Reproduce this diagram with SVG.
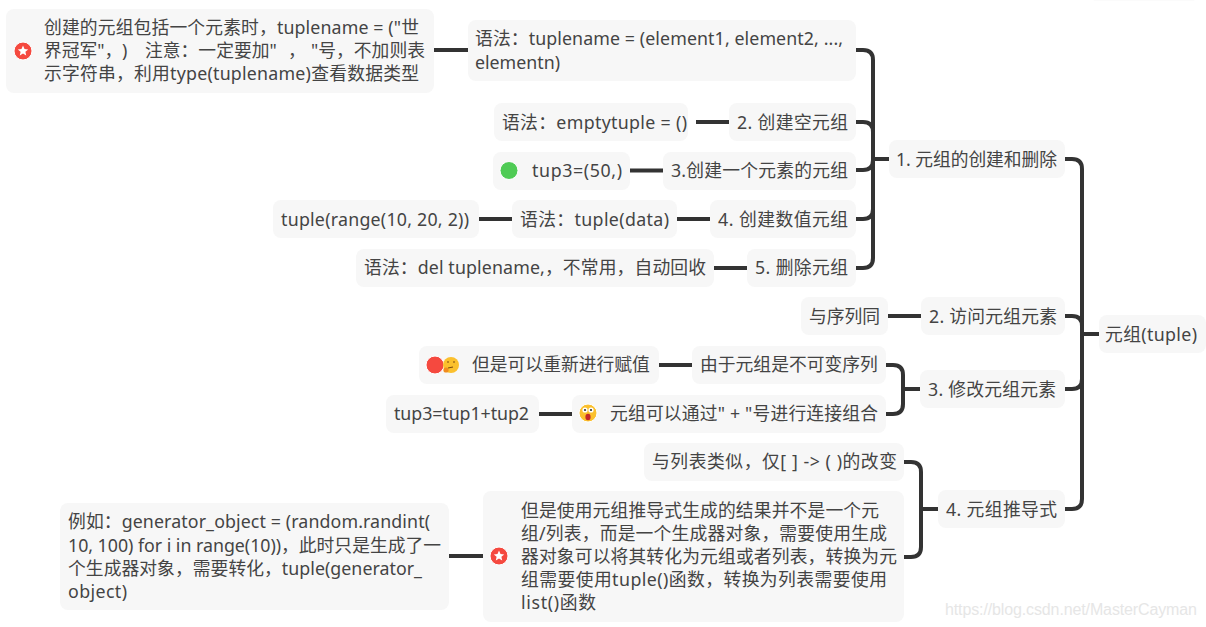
<svg xmlns="http://www.w3.org/2000/svg" width="1206" height="627" viewBox="0 0 1206 627">
<style>
text{font-family:"Noto Sans","Noto Sans CJK SC",sans-serif;font-size:17.8px;fill:#444}
.b{fill:#f7f7f7}
.c{fill:none;stroke:#333;stroke-width:4;stroke-linecap:butt}
.e{stroke:#fff;stroke-width:1}
</style>
<defs>
<g id="star"><circle r="9" fill="#f5493f" class="e"/><polygon fill="#fff" points="0,-5.4 1.5,-1.9 5.2,-1.6 2.4,0.8 3.2,4.4 0,2.5 -3.2,4.4 -2.4,0.8 -5.2,-1.6 -1.5,-1.9"/></g>
</defs>
<rect class="b" x="1088" y="-30" width="112" height="30.5" rx="8"/>
<g id="connectors">
<path class="c" d="M1065 159H1072Q1082 159 1082 169V499Q1082 509 1072 509H1065"/>
<path class="c" d="M1065 316H1072Q1082 316 1082 326M1065 389H1072Q1082 389 1082 379M1082 334H1099"/>
<path class="c" d="M856 50H863Q873 50 873 60V258Q873 268 863 268H856"/>
<path class="c" d="M856 122H863Q873 122 873 132M856 170H863Q873 170 873 160M856 219H863Q873 219 873 209M873 159H889"/>
<path class="c" d="M434 50H468M696 122H729M630 170.500H663M479 219H512M677 219H710M714 268H747M888 316H921"/>
<path class="c" d="M886 365H893Q903 365 903 375V404Q903 414 893 414H886M903 389H920M659 365H692M539 414H572"/>
<path class="c" d="M904 462H911Q921 462 921 472V547Q921 557 911 557H904M921 509H938M449 556H483"/>
</g>
<g id="n0"><rect class="b" x="1099" y="315" width="107" height="38" rx="8"/><text x="1105" y="341" textLength="92">元组(tuple)</text></g>
<g id="n1"><rect class="b" x="889" y="140" width="176" height="38" rx="8"/><text x="896" y="166" textLength="161">1. 元组的创建和删除</text></g>
<g id="n2"><rect class="b" x="921" y="297" width="144" height="38" rx="8"/><text x="929" y="323" textLength="128">2. 访问元组元素</text></g>
<g id="n3"><rect class="b" x="920" y="370" width="145" height="38" rx="8"/><text x="928" y="396" textLength="128">3. 修改元组元素</text></g>
<g id="n4"><rect class="b" x="938" y="490" width="127" height="38" rx="8"/><text x="946" y="516" textLength="111">4. 元组推导式</text></g>
<g id="n5"><rect class="b" x="468" y="20" width="388" height="61" rx="8"/><text x="475" y="45" textLength="368">语法：tuplename = (element1, element2, ...,</text><text x="475" y="69" textLength="85">elementn)</text></g>
<g id="n6"><rect class="b" x="6" y="9" width="428" height="84" rx="8"/><use href="#star" x="23" y="51"/><text x="44" y="34" textLength="375">创建的元组包括一个元素时，tuplename = ("世</text><text y="57"><tspan x="44">界冠军"，</tspan><tspan x="122">)</tspan><tspan x="145">注意：一定要加"</tspan><tspan x="288">，</tspan><tspan x="311">"号，不加则表</tspan></text><text x="44" y="80" textLength="375">示字符串，利用type(tuplename)查看数据类型</text></g>
<g id="n7"><rect class="b" x="729" y="103" width="127" height="38" rx="8"/><text x="737" y="129" textLength="111">2. 创建空元组</text></g>
<g id="n8"><rect class="b" x="494" y="103" width="194" height="38" rx="8"/><text x="502" y="129" textLength="185">语法：emptytuple = ()</text></g>
<g id="n9"><rect class="b" x="663" y="152" width="193" height="38" rx="8"/><text x="671" y="177" textLength="177">3.创建一个元素的元组</text></g>
<g id="n10"><rect class="b" x="493" y="152" width="137" height="38" rx="8"/><circle class="e" cx="509" cy="170.500" r="9" fill="#4fcb55"/><text x="532" y="177" textLength="90">tup3=(50,)</text></g>
<g id="n11"><rect class="b" x="710" y="200" width="146" height="38" rx="8"/><text x="718" y="226" textLength="130">4. 创建数值元组</text></g>
<g id="n12"><rect class="b" x="512" y="200" width="165" height="38" rx="8"/><text x="520" y="226" textLength="149">语法：tuple(data)</text></g>
<g id="n13"><rect class="b" x="273" y="200" width="206" height="38" rx="8"/><text x="281" y="226" textLength="188">tuple(range(10, 20, 2))</text></g>
<g id="n14"><rect class="b" x="747" y="249" width="109" height="38" rx="8"/><text x="755" y="274" textLength="93">5. 删除元组</text></g>
<g id="n15"><rect class="b" x="356" y="249" width="358" height="38" rx="8"/><text x="364" y="274" textLength="342">语法：del tuplename,，不常用，自动回收</text></g>
<g id="n16"><rect class="b" x="801" y="297" width="87" height="38" rx="8"/><text x="809" y="323">与序列同</text></g>
<g id="n17"><rect class="b" x="692" y="346" width="194" height="38" rx="8"/><text x="700" y="371">由于元组是不可变序列</text></g>
<g id="n18"><rect class="b" x="419" y="346" width="240" height="38" rx="8"/><circle class="e" cx="435" cy="365" r="9" fill="#f5493f"/><circle cx="451" cy="365" r="8" fill="#fbc02d"/><path d="M447 362h2M453 362h2M448 368l5-1" stroke="#7a4a10" stroke-width="1.2" fill="none"/><circle cx="446" cy="370" r="2.6" fill="#f08c1e"/><text x="472" y="371">但是可以重新进行赋值</text></g>
<g id="n19"><rect class="b" x="572" y="395" width="314" height="38" rx="8"/><circle class="e" cx="588" cy="413" r="9" fill="#fbc02d"/><circle cx="585" cy="410" r="2.6" fill="#fff"/><circle cx="591" cy="410" r="2.6" fill="#fff"/><circle cx="585" cy="410" r="1.1" fill="#333"/><circle cx="591" cy="410" r="1.1" fill="#333"/><ellipse cx="588" cy="417" rx="2.6" ry="3.2" fill="#c62828"/><text x="610" y="420" textLength="268">元组可以通过" + "号进行连接组合</text></g>
<g id="n20"><rect class="b" x="386" y="395" width="153" height="38" rx="8"/><text x="394" y="420" textLength="135">tup3=tup1+tup2</text></g>
<g id="n21"><rect class="b" x="644" y="443" width="260" height="38" rx="8"/><text x="652" y="468" textLength="245">与列表类似，仅[ ] -&gt; ( )的改变</text></g>
<g id="n22"><rect class="b" x="483" y="491" width="421" height="131" rx="8"/><use href="#star" x="499" y="556"/><text x="521" y="517" textLength="358">但是使用元组推导式生成的结果并不是一个元</text><text x="521" y="540" textLength="366">组/列表，而是一个生成器对象，需要使用生成</text><text x="521" y="563" textLength="376">器对象可以将其转化为元组或者列表，转换为元</text><text x="521" y="586" textLength="366">组需要使用tuple()函数，转换为列表需要使用</text><text x="521" y="609" textLength="75">list()函数</text></g>
<g id="n23"><rect class="b" x="60" y="503" width="389" height="107" rx="8"/><text x="68" y="528" textLength="362">例如：generator_object = (random.randint(</text><text x="68" y="552" textLength="373">10, 100) for i in range(10))，此时只是生成了一</text><text x="68" y="575" textLength="354">个生成器对象，需要转化，tuple(generator_</text><text x="68" y="598" textLength="59">object)</text></g>
<text x="945" y="615" textLength="252" style="font-family:'Liberation Sans',sans-serif;font-size:16px;fill:#e6e6e6">https://blog.csdn.net/MasterCayman</text>
</svg>
